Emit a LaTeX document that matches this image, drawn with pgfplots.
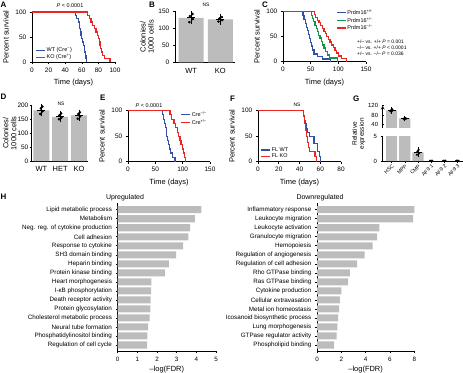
\documentclass[border=0pt]{standalone}
\usepackage{fontspec}
\setmainfont{Liberation Sans}
\usepackage{pgfplots}
\pgfplotsset{compat=1.18}
\definecolor{pblue}{RGB}{50,80,168}
\definecolor{pred}{RGB}{232,38,36}
\definecolor{pgreen}{RGB}{16,150,72}
\definecolor{pgray}{RGB}{188,188,188}
\begin{document}
\begin{tikzpicture}
\pgfplotsset{
 prism/.style={
  scale only axis,
  axis lines=left,
  axis line style={-, line width=0.7pt},
  tick align=outside,
  major tick length=2.2pt,
  tick style={black, line width=0.6pt},
  tick label style={font=\fontsize{6.5}{7}\selectfont},
  label style={font=\fontsize{7.5}{8}\selectfont},
  ylabel style={align=center},
  /pgf/number format/assume math mode=true,
  clip=false,
  legend cell align=left,
 },
 km/.style={prism, ymin=0, ymax=100, ytick={0,50,100}, xlabel={Time (days)}, ylabel={Percent survival}},
 kml/.style={const plot, line width=1.2pt},
 klegend/.style={legend style={draw=none, fill=none, font=\fontsize{5.5}{6}\selectfont, inner sep=0pt, row sep=0pt, nodes={inner sep=0.7pt}, cells={anchor=west}},
   legend image code/.code={\draw[##1, line width=1.4pt] (0bp,0bp) -- (9bp,0bp);}},
 barsty/.style={ybar, bar width=0.85, bar shift=0pt, fill=pgray, draw=none},
 dotsty/.style={only marks, mark=*, mark size=1.1pt, black},
 errsty/.style={black, only marks, mark=-, mark size=4pt, line width=0.7pt, error bars/.cd, y dir=both, y explicit, error bar style={line width=0.7pt, black}, error mark options={mark size=2.5pt, line width=0.7pt, black}},
 hbar/.style={xbar, bar width=0.78, bar shift=0pt, fill=pgray, draw=none},
}
\path[use as bounding box] (0,0) rectangle (463bp,-373bp);
\tikzset{lett/.style={font=\bfseries\fontsize{8}{9}\selectfont, anchor=north west, inner sep=0pt}}
\node[lett] at (0.5bp,-1.5bp) {A};
\node[lett] at (149bp,-1.5bp) {B};
\node[lett] at (262bp,-1.5bp) {C};
\node[lett] at (0.5bp,-93.5bp) {D};
\node[lett] at (100bp,-95bp) {E};
\node[lett] at (230bp,-96bp) {F};
\node[lett] at (353bp,-96bp) {G};
\node[lett] at (0.5bp,-194bp) {H};

% ---------- A ----------
\begin{axis}[km, at={(32bp,-62bp)}, anchor=south west, width=83bp, height=50bp,
  xmin=0, xmax=100, xtick={0,20,...,100}, klegend, legend style={at={(0.04,0.3)}, anchor=north west}]
\addplot[kml, pblue] coordinates {(0,100)(52,93)(54,87)(56,80)(57,73)(57.5,67)(58,60)(59,53)(60,47)(61,40)(62,33)(63,27)(63.5,20)(64,13)(65,7)(66,0)};
\addlegendentry{WT (Cre\textsuperscript{−})}
\addplot[kml, pred] coordinates {(0,100)(67,93)(69,87)(71,80)(73,73)(75,67)(77,60)(79,53)(80,47)(81,40)(82,33)(83,27)(84,20)(85,13)(87,7)(94,0)};
\addlegendentry{KO (Cre\textsuperscript{+})}
\end{axis}
\node[font=\fontsize{5.5}{6}\selectfont] at (70bp,-6bp) {\textit{P} < 0.0001};

% ---------- B ----------
\begin{axis}[prism, at={(175bp,-62.3bp)}, anchor=south west, width=60bp, height=51bp,
  xmin=-0.55, xmax=1.5, ymin=0, ymax=150, ytick={0,50,100,150}, xtick={0,1}, xticklabels={WT,KO},
  xtick style={draw=none}, x tick label style={font=\fontsize{7.5}{8}\selectfont},
  ylabel={Colonies/\\1000 cells}, ylabel shift=-2pt]
\addplot[barsty] coordinates {(0,131)(1,126)};
\addplot[errsty] coordinates {(0,131) +- (0,12) (1,126) +- (0,8)};
\addplot[dotsty] coordinates {(-0.06,118)(0.06,127)(-0.04,136)(0.05,142)(0.94,120)(1.06,124)(0.97,129)(1.05,133)};
\end{axis}
\node[font=\fontsize{5}{6}\selectfont] at (206bp,-5bp) {NS};

% ---------- C ----------
\begin{axis}[km, at={(283bp,-61.5bp)}, anchor=south west, width=83bp, height=49.8bp,
  xmin=0, xmax=150, xtick={0,50,100,150}, klegend, legend style={at={(0.64,1.06)}, anchor=north west}]
\addplot[kml, pblue] coordinates {(0,100)(36,92)(38,85)(40,77)(42,69)(44,62)(46,54)(48,46)(50,38)(52,31)(54,23)(56,15)(62,10)(72,5)(86,0)};
\addlegendentry{Prdm16\textsuperscript{+/+}}
\addplot[kml, pgreen] coordinates {(0,100)(51,93)(53,87)(55,80)(58,73)(60,67)(62,60)(64,53)(67,47)(70,40)(72,33)(74,27)(77,20)(80,13)(84,7)(98,0)};
\addlegendentry{Prdm16\textsuperscript{+/−}}
\addplot[kml, pred] coordinates {(0,100)(57,94)(59,89)(62,83)(65,78)(68,72)(72,67)(74,61)(77,56)(79,50)(82,44)(85,39)(88,33)(91,28)(94,22)(97,17)(100,11)(105,6)(115,0)};
\addlegendentry{Prdm16\textsuperscript{−/−}}
\end{axis}
\begin{scope}[every node/.style={font=\fontsize{5}{6}\selectfont, anchor=west, inner sep=0pt}]
\node at (357bp,-41.7bp) {+/– vs. +/+ \textit{P} = 0.001};
\node at (357bp,-47.3bp) {–/– vs. +/+ \textit{P} < 0.0001};
\node at (357bp,-53.3bp) {+/– vs. –/– \textit{P} = 0.036};
\end{scope}

% ---------- D ----------
\begin{axis}[prism, at={(31.7bp,-161bp)}, anchor=south west, width=56.6bp, height=55.3bp,
  xmin=-0.52, xmax=2.5, ymin=0, ymax=200, ytick={0,50,...,200}, xtick={0,1,2}, xticklabels={WT,HET,KO},
  xtick style={draw=none}, x tick label style={font=\fontsize{7.5}{8}\selectfont},
  y tick label style={inner sep=1pt},
  ylabel={Colonies/\\1000 cells}, ylabel shift=-3.5pt]
\addplot[barsty] coordinates {(0,183)(1,160)(2,165)};
\addplot[errsty] coordinates {(0,183) +- (0,13) (1,160) +- (0,11) (2,165) +- (0,12)};
\addplot[dotsty] coordinates {(-0.06,170)(0.06,180)(-0.03,190)(0.05,197)(0.94,151)(1.06,157)(0.96,165)(1.05,172)(1.94,153)(2.06,161)(1.97,170)(2.05,176)};
\end{axis}
\node[font=\fontsize{5}{6}\selectfont] at (61bp,-104bp) {NS};

% ---------- E ----------
\begin{axis}[km, at={(128bp,-161.7bp)}, anchor=south west, width=82bp, height=51bp,
  xmin=0, xmax=150, xtick={0,50,100,150}, klegend, legend style={at={(0.64,1.0)}, anchor=north west}]
\addplot[kml, pblue] coordinates {(0,100)(63,92)(65,83)(67,75)(69,67)(70,58)(71,50)(72,42)(74,33)(76,25)(78,17)(81,8)(86,0)};
\addlegendentry{Cre\textsuperscript{−/−}}
\addplot[kml, pred] coordinates {(0,100)(77,92)(80,83)(84,75)(87,67)(90,58)(93,50)(95,42)(97,33)(99,25)(101,17)(103,8)(105,0)};
\addlegendentry{Cre\textsuperscript{+/−}}
\end{axis}
\node[font=\fontsize{5.5}{6}\selectfont] at (149bp,-105.5bp) {\textit{P} < 0.0001};

% ---------- F ----------
\begin{axis}[km, at={(258bp,-161.7bp)}, anchor=south west, width=83bp, height=51bp,
  xmin=0, xmax=80, xtick={0,20,...,80}, klegend, legend style={at={(0.03,0.3)}, anchor=north west}]
\addplot[kml, pblue] coordinates {(0,100)(44,90)(45,80)(46,75)(47,65)(48,58)(50,50)(54,35)(57,20)(59,10)(60,0)};
\addlegendentry{FL WT}
\addplot[kml, pred] coordinates {(0,100)(44,88)(45,75)(46,62)(47,50)(48,38)(49,28)(50,20)(55,10)(56,0)};
\addlegendentry{FL KO}
\end{axis}
\node[font=\fontsize{5}{6}\selectfont] at (297bp,-104.3bp) {NS};

% ---------- G (broken axis) ----------
\begin{axis}[prism, clip=true, at={(382.7bp,-127.8bp)}, anchor=south west, width=80bp, height=22.1bp,
  xmin=-0.68, xmax=5.4, ymin=25, ymax=120, ytick={40,80,120}, axis x line=none, axis y line=left,
  tick label style={font=\fontsize{6}{7}\selectfont}]
\addplot[barsty] coordinates {(0,100)(1,65)};
\addplot[errsty] coordinates {(0,100) +- (0,4) (1,65) +- (0,2)};
\addplot[dotsty, mark size=0.9pt] coordinates {(-0.08,96)(0.08,99)(-0.04,101)(0.05,104)(0.92,63)(1.08,64)(0.96,66)(1.05,67)};
\end{axis}
\begin{axis}[prism, clip=true, at={(382.7bp,-161bp)}, anchor=south west, width=80bp, height=24.3bp,
  xmin=-0.68, xmax=5.4, ymin=0, ymax=5, ytick={0,5},
  tick label style={font=\fontsize{6}{7}\selectfont},
  xtick={0,...,5}, xticklabels={HSC,MPP,CMP,AF9 1,AF9 2,AF9 3},
  x tick label style={rotate=45, anchor=north east, inner sep=0.5pt, font=\fontsize{5.2}{6}\selectfont},
  ylabel={Relative\\expression}, ylabel style={at={(axis description cs:-0.3,1.12)}, anchor=center, font=\fontsize{6.5}{7}\selectfont}]
\addplot[barsty] coordinates {(0,100)(1,65)(2,1.8)};
\addplot[errsty] coordinates {(2,1.8) +- (0,0.5)};
\addplot[dotsty, mark size=0.9pt] coordinates {(1.92,1.3)(2.08,1.6)(1.96,2.0)(2.05,2.3)(2.92,0.05)(3.08,0.05)(3,0.05)(3.92,0.05)(4.08,0.05)(4,0.05)(4.92,0.05)(5.08,0.05)(5,0.05)};
\end{axis}

% ---------- H up ----------
\begin{axis}[prism, at={(117.7bp,-351.3bp)}, anchor=south west, width=98.3bp, height=147.9bp,
  xmin=0, xmax=5, xtick={0,...,5}, ymin=0.3, ymax=16.7, ytick={1,...,16},
  yticklabels={Regulation of cell cycle, Phosphatidylinositol binding, Neural tube formation, Cholesterol metabolic process, Protein glycosylation, Death receptor activity, I-κB phosphorylation, Heart morphogenesis, Protein kinase binding, Heparin binding, SH3 domain binding, Response to cytokine, Cell adhesion, Neg. reg. of cytokine production, Metabolism, Lipid metabolic process},
  y tick label style={font=\fontsize{6.3}{7}\selectfont}, x tick label style={font=\fontsize{6.3}{7}\selectfont},
  xlabel={–log(FDR)}, xlabel style={yshift=2pt}]
\addplot[hbar] coordinates {(4.25,16)(3.93,15)(3.68,14)(3.60,13)(3.33,12)(2.97,11)(2.60,10)(2.40,9)(1.71,8)(1.70,7)(1.68,6)(1.66,5)(1.62,4)(1.55,3)(1.51,2)(1.50,1)};
\end{axis}
\node[font=\fontsize{7}{8}\selectfont] at (125bp,-197.7bp) {Upregulated};

% ---------- H down ----------
\begin{axis}[prism, at={(317bp,-351.3bp)}, anchor=south west, width=97.3bp, height=147.9bp,
  xmin=0, xmax=8, xtick={0,2,...,8}, ymin=0.3, ymax=16.7, ytick={1,...,16},
  yticklabels={Phospholipid binding, GTPase regulator activity, Lung morphogenesis, Icosanoid biosynthetic process, Metal ion homeostasis, Cellular extravasation, Cytokine production, Ras GTPase binding, Rho GTPase binding, Regulation of cell adhesion, Regulation of angiogenesis, Hemopoiesis, Granulocyte migration, Leukocyte activation, Leukocyte migration, Inflammatory response},
  y tick label style={font=\fontsize{6.3}{7}\selectfont}, x tick label style={font=\fontsize{6.3}{7}\selectfont},
  xlabel={–log(FDR)}, xlabel style={yshift=2pt}]
\addplot[hbar] coordinates {(8.0,16)(7.9,15)(5.12,14)(4.95,13)(4.57,12)(3.92,11)(3.29,10)(2.71,9)(2.55,8)(2.0,7)(1.89,6)(1.81,5)(1.73,4)(1.67,3)(1.62,2)(1.40,1)};
\end{axis}
\node[font=\fontsize{7}{8}\selectfont] at (320bp,-197.7bp) {Downregulated};
\end{tikzpicture}
\end{document}
